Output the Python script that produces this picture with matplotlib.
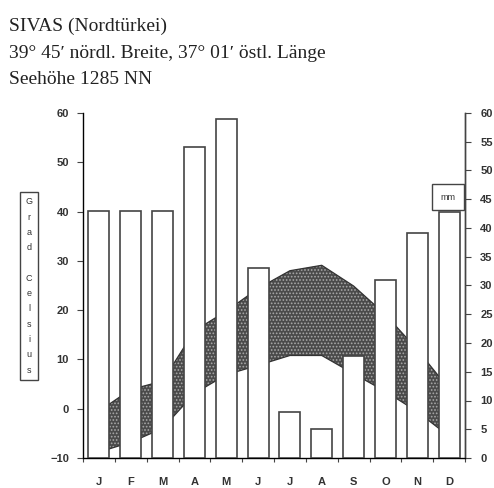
import matplotlib
matplotlib.use("Agg")
import matplotlib.pyplot as plt
import numpy as np

# Klimadiagramm Sivas
months = ["J", "F", "M", "A", "M", "J", "J", "A", "S", "O", "N", "D"]
precip_mm = [42.9, 42.9, 42.9, 54.0, 59.0, 33.1, 8.0, 5.1, 17.8, 31.0, 39.1, 42.8]
temp_max = [-0.5, 3.9, 5.6, 15.8, 19.8, 24.4, 28.0, 29.1, 24.9, 19.1, 12.0, 4.0]
temp_min = [-8.8, -6.8, -4.0, 3.1, 6.9, 8.8, 10.8, 10.8, 7.1, 3.5, -0.6, -5.6]
temp_ticks = [-10, 0, 10, 20, 30, 40, 50, 60]
mm_ticks = list(range(0, 61, 5))

plt.rcParams['hatch.linewidth'] = 0.8
W, H = 494, 488
fig = plt.figure(figsize=(W / 100, H / 100), dpi=100)

ax = fig.add_axes([83 / W, 1 - 458 / H, (465 - 83) / W, (458 - 113) / H])
x = np.arange(12) + 0.5

# Temperaturband (min - max)
ax.fill_between(x, temp_min, temp_max, facecolor='#4a4a4a', edgecolor='#a8a8a8',
                hatch='.....', linewidth=0, zorder=1)
ax.plot(x, temp_max, color='#333333', lw=0.9, zorder=2)
ax.plot(x, temp_min, color='#333333', lw=0.9, zorder=2)
ax.set_xlim(0, 12)
ax.set_ylim(-10, 60)
ax.set_yticks(temp_ticks)
ax.set_xticks(range(13))
ax.set_xticklabels([])
ax.set_xticks(x, minor=True)
ax.set_xticklabels(months, minor=True)
ax.tick_params(axis='x', which='minor', length=0, pad=14)
ax.tick_params(axis='x', which='major', length=3, width=0.8, color='#444444')
ax.tick_params(axis='y', length=4, width=0.8, color='#444444', pad=6)
for lab in ax.get_yticklabels() + ax.get_xticklabels(minor=True):
    lab.set_fontfamily('Liberation Sans')
    lab.set_fontweight('bold')
    lab.set_fontsize(8)
    lab.set_color('#333333')
ax.spines['top'].set_visible(False)
for s in ['left', 'bottom', 'right']:
    ax.spines[s].set_color('#444444')
    ax.spines[s].set_linewidth(1.0)

# Niederschlag (Balken) auf der rechten Achse
ax2 = ax.twinx()
ax2.bar(x, precip_mm, width=0.66, facecolor='white', edgecolor='#444444',
        linewidth=1.2, zorder=3)
ax2.set_ylim(0, 60)
ax2.set_yticks(mm_ticks)
ax2.tick_params(axis='y', length=4, width=0.8, color='#444444', pad=7)
for lab in ax2.get_yticklabels():
    lab.set_fontfamily('Liberation Sans')
    lab.set_fontweight('bold')
    lab.set_fontsize(8)
    lab.set_color('#333333')
ax2.spines['top'].set_visible(False)
ax2.spines['right'].set_color('#444444')
ax2.spines['right'].set_linewidth(1.0)

# Einheiten
ax2.text(448 / W, 1 - 197 / H, "mm", transform=fig.transFigure, ha='center', va='center',
         fontsize=6.5, family='Liberation Sans', color='#333333', zorder=5,
         bbox=dict(boxstyle='square,pad=0.9', facecolor='white', edgecolor='#444444', linewidth=1.0))
fig.text(29 / W, 1 - 286 / H, "G\nr\na\nd\n\nC\ne\nl\ns\ni\nu\ns", ha='center', va='center',
         fontsize=6.5, family='Liberation Sans', color='#333333', linespacing=1.9,
         bbox=dict(boxstyle='square,pad=0.6', facecolor='white', edgecolor='#444444', linewidth=1.0))

# Kopf
title_lines = ["SIVAS (Nordtürkei)", "39° 45ʹ nördl. Breite, 37° 01ʹ östl. Länge", "Seehöhe 1285 NN"]
for i, line in enumerate(title_lines):
    fig.text(9 / W, 1 - (31 + 26.5 * i) / H, line, ha='left', va='baseline',
             fontsize=14, family=['Liberation Serif', 'DejaVu Serif'], color='#222222')

fig.savefig("out.png", dpi=100)
